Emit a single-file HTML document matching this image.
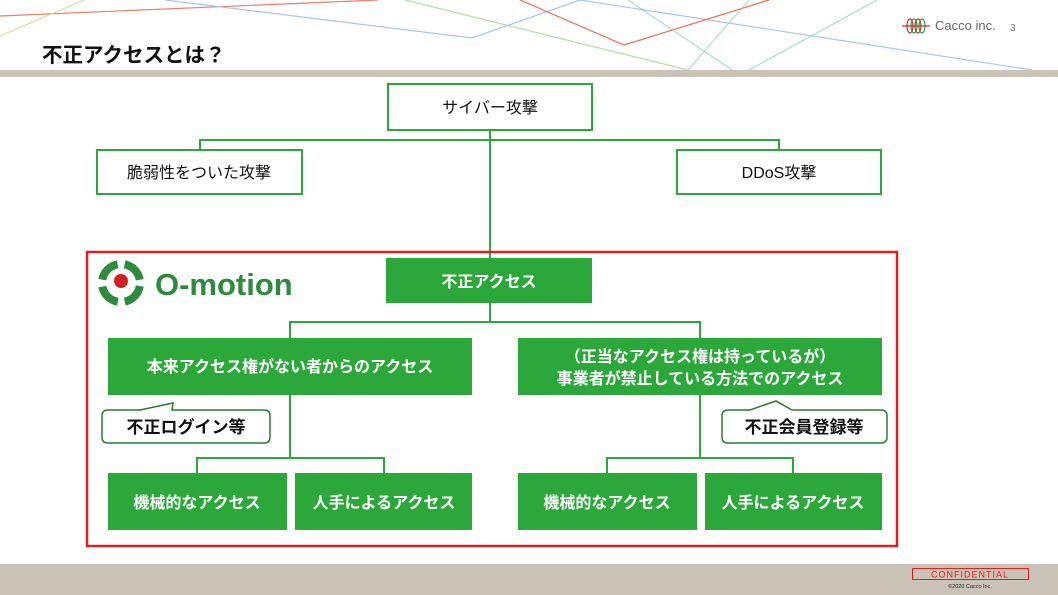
<!DOCTYPE html>
<html><head><meta charset="utf-8"><style>
html,body{margin:0;padding:0;background:#fff;}
svg{display:block;}
text{font-family:"Liberation Sans","Noto Sans CJK JP",sans-serif;}
</style></head><body>
<svg width="1058" height="595" viewBox="0 0 1058 595" xmlns="http://www.w3.org/2000/svg">
<g fill="none" stroke-width="1.2">
<polyline points="0,16 378,0" stroke="#e8806a"/>
<polyline points="0,36 84,0" stroke="#cfe0a0"/>
<polyline points="165,0 472,38 580,0 1032,70" stroke="#a9c4e8"/>
<polyline points="520,0 624,45 769,0" stroke="#ea6a50"/>
<polyline points="405,0 688,70" stroke="#b8dca0"/>
<polyline points="628,0 732,70" stroke="#8fd0b8" stroke-width="0.8"/>
<polyline points="749,0 688,70" stroke="#8fd0b8" stroke-width="0.8"/>
<polyline points="877,0 749,70" stroke="#8fd0b8" stroke-width="0.8"/>
</g>
<g fill="none" stroke-width="1.2">
<ellipse cx="910" cy="26" rx="3" ry="7" stroke="#c03030"/>
<ellipse cx="914" cy="26" rx="3" ry="7" stroke="#2a9a40"/>
<ellipse cx="918" cy="26" rx="3" ry="7" stroke="#c03030"/>
<ellipse cx="922" cy="26" rx="3" ry="7" stroke="#2a9a40"/>
<line x1="902" y1="26" x2="930" y2="26" stroke="#c03030"/>
</g>
<text x="935" y="30" font-family="Liberation Serif,serif" font-size="13" fill="#666">Cacco inc.</text>
<text x="1010" y="31" font-size="10" fill="#777">3</text>
<text x="42" y="62" font-size="20.5" font-weight="bold" fill="#111">不正アクセスとは？</text>
<rect x="0" y="70" width="1058" height="7" fill="#cbc3b7"/>
<rect x="0" y="564" width="1058" height="31" fill="#cbc3b7"/>
<rect x="912.5" y="568.5" width="116" height="11" fill="none" stroke="#e02020"/>
<text x="970" y="577.5" font-size="9" fill="#e02020" text-anchor="middle" letter-spacing="1">CONFIDENTIAL</text>
<text x="970" y="588" font-size="5.5" fill="#222" text-anchor="middle">©2020 Cacco Inc.</text>

<g stroke="#2ca83b" stroke-width="2" fill="none">
<line x1="490" y1="130" x2="490" y2="258"/>
<polyline points="200,150 200,140 779,140 779,150"/>
<line x1="490" y1="303" x2="490" y2="322"/>
<polyline points="290,338 290,322 700,322 700,338"/>
<line x1="290" y1="395" x2="290" y2="458"/>
<polyline points="197,473 197,458 384,458 384,473"/>
<line x1="700" y1="395" x2="700" y2="458"/>
<polyline points="607,473 607,458 793,458 793,473"/>
</g>
<g fill="#fff" stroke="#2ca83b" stroke-width="2">
<rect x="388" y="84" width="204" height="46"/>
<rect x="97" y="150" width="205" height="44"/>
<rect x="677" y="150" width="204" height="44"/>
</g>
<g font-size="16" fill="#111" text-anchor="middle">
<text x="490" y="113">サイバー攻撃</text>
<text x="199" y="178">脆弱性をついた攻撃</text>
<text x="779" y="178">DDoS攻撃</text>
</g>
<rect x="87" y="252" width="810" height="294" fill="none" stroke="#e02020" stroke-width="2.5"/>
<g>
<circle cx="121" cy="283" r="19" fill="none" stroke="#2e8b3e" stroke-width="8" stroke-dasharray="23 7" stroke-dashoffset="-3"/>
<circle cx="121" cy="281" r="7" fill="#d02020"/>
<text x="155" y="295" font-size="31" font-weight="bold" fill="#2e8b3e">O-motion</text>
</g>
<g fill="#2ca83b">
<rect x="386" y="258" width="206" height="45"/>
<rect x="108" y="338" width="364" height="57"/>
<rect x="518" y="338" width="364" height="57"/>
<rect x="108" y="473" width="179" height="57"/>
<rect x="295" y="473" width="177" height="57"/>
<rect x="518" y="473" width="179" height="57"/>
<rect x="705" y="473" width="177" height="57"/>
</g>
<g font-size="16" font-weight="bold" fill="#fff" text-anchor="middle">
<text x="489" y="287">不正アクセス</text>
<text x="290" y="372">本来アクセス権がない者からのアクセス</text>
<text x="700" y="362">（正当なアクセス権は持っているが）</text>
<text x="700" y="384">事業者が禁止している方法でのアクセス</text>
<text x="197" y="508">機械的なアクセス</text>
<text x="384" y="508">人手によるアクセス</text>
<text x="607" y="508">機械的なアクセス</text>
<text x="793" y="508">人手によるアクセス</text>
</g>
<path d="M108,410 L140,410 L173,403 L172,410 L264,410 Q270,410 270,416 L270,437 Q270,443 264,443 L108,443 Q102,443 102,437 L102,416 Q102,410 108,410 Z" fill="#fff" stroke="#2a7a30" stroke-width="1.5"/>
<text x="186" y="433" font-size="17" font-weight="bold" fill="#111" text-anchor="middle">不正ログイン等</text>
<path d="M728,410 L750,410 L776,401 L792,410 L881,410 Q887,410 887,416 L887,437 Q887,443 881,443 L728,443 Q722,443 722,437 L722,416 Q722,410 728,410 Z" fill="#fff" stroke="#2a7a30" stroke-width="1.5"/>
<text x="804" y="433" font-size="17" font-weight="bold" fill="#111" text-anchor="middle">不正会員登録等</text>
</svg>
</body></html>
